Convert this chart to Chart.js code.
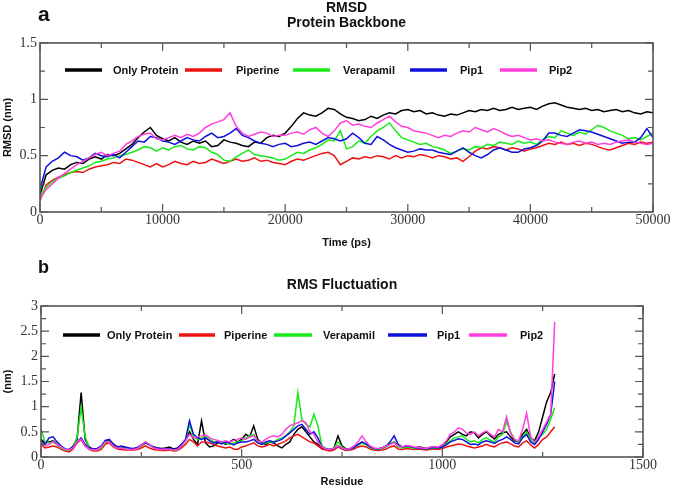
<!DOCTYPE html>
<html>
<head>
<meta charset="utf-8">
<script src="https://cdn.jsdelivr.net/npm/chart.js@4.4.1/dist/chart.umd.min.js"></script>
<style>
  html, body { margin: 0; padding: 0; background: #fff; }
  #wrap { position: relative; width: 675px; height: 488px; overflow: hidden; }
  canvas { position: absolute; left: 0; }
  .tag { position: absolute; left: 38px; line-height: 1; font-family: "Liberation Sans", Arial, sans-serif; font-weight: bold; color: #111; }
</style>
</head>
<body>
<div id="wrap">
  <canvas id="rmsdChart" width="675" height="250" style="top:0"></canvas>
  <canvas id="rmsfChart" width="675" height="238" style="top:250px"></canvas>
  <div class="tag" style="top:3px; font-size:21px">a</div>
  <div class="tag" style="top:258px; font-size:18px">b</div>
</div>
<script>
// Series names (same order in both panels)
const seriesNames = ['Only Protein', 'Piperine', 'Verapamil', 'Pip1', 'Pip2'];

// Panel a: RMSD, sampled every 500 ps
const times = [
    0, 500, 1000, 1500, 2000, 2500, 3000, 3500, 4000, 4500,
    5000, 5500, 6000, 6500, 7000, 7500, 8000, 8500, 9000, 9500,
    10000, 10500, 11000, 11500, 12000, 12500, 13000, 13500, 14000, 14500,
    15000, 15500, 16000, 16500, 17000, 17500, 18000, 18500, 19000, 19500,
    20000, 20500, 21000, 21500, 22000, 22500, 23000, 23500, 24000, 24500,
    25000, 25500, 26000, 26500, 27000, 27500, 28000, 28500, 29000, 29500,
    30000, 30500, 31000, 31500, 32000, 32500, 33000, 33500, 34000, 34500,
    35000, 35500, 36000, 36500, 37000, 37500, 38000, 38500, 39000, 39500,
    40000, 40500, 41000, 41500, 42000, 42500, 43000, 43500, 44000, 44500,
    45000, 45500, 46000, 46500, 47000, 47500, 48000, 48500, 49000, 49500,
    50000
];
const rmsdProtein = [
    0.15, 0.33, 0.37, 0.39, 0.38, 0.42, 0.44, 0.43, 0.47, 0.49,
    0.47, 0.51, 0.50, 0.52, 0.56, 0.60, 0.66, 0.71, 0.75, 0.68,
    0.65, 0.63, 0.66, 0.62, 0.60, 0.63, 0.61, 0.63, 0.58, 0.59,
    0.64, 0.62, 0.61, 0.59, 0.58, 0.62, 0.61, 0.66, 0.68, 0.67,
    0.70, 0.76, 0.83, 0.88, 0.86, 0.85, 0.88, 0.92, 0.91, 0.87,
    0.84, 0.83, 0.81, 0.82, 0.85, 0.83, 0.86, 0.88, 0.87, 0.90,
    0.91, 0.89, 0.90, 0.87, 0.88, 0.86, 0.85, 0.87, 0.86, 0.88,
    0.90, 0.89, 0.91, 0.90, 0.92, 0.90, 0.91, 0.93, 0.91, 0.92,
    0.93, 0.91, 0.94, 0.96, 0.97, 0.95, 0.93, 0.92, 0.91, 0.92,
    0.90, 0.91, 0.89, 0.90, 0.91, 0.89, 0.90, 0.88, 0.87, 0.89,
    0.88
];
const rmsdPiperine = [
    0.10, 0.24, 0.28, 0.31, 0.33, 0.35, 0.36, 0.35, 0.38, 0.40,
    0.41, 0.42, 0.44, 0.43, 0.47, 0.46, 0.44, 0.42, 0.40, 0.43,
    0.40, 0.42, 0.45, 0.43, 0.42, 0.45, 0.43, 0.44, 0.47, 0.45,
    0.43, 0.45, 0.47, 0.45, 0.46, 0.48, 0.45, 0.46, 0.44, 0.43,
    0.42, 0.45, 0.47, 0.46, 0.48, 0.50, 0.52, 0.53, 0.50, 0.42,
    0.45, 0.48, 0.47, 0.49, 0.48, 0.50, 0.49, 0.47, 0.50, 0.48,
    0.50, 0.49, 0.51, 0.50, 0.48, 0.50, 0.49, 0.47, 0.48, 0.45,
    0.49, 0.54, 0.57, 0.56, 0.58, 0.57, 0.55, 0.57, 0.56, 0.54,
    0.56, 0.57, 0.59, 0.61, 0.60, 0.62, 0.60, 0.61, 0.59, 0.61,
    0.60, 0.58, 0.56, 0.55, 0.57, 0.59, 0.61, 0.60, 0.62, 0.61,
    0.62
];
const rmsdVerapamil = [
    0.14, 0.22, 0.27, 0.30, 0.32, 0.35, 0.37, 0.39, 0.41, 0.44,
    0.45, 0.47, 0.48, 0.50, 0.51, 0.53, 0.55, 0.58, 0.57, 0.54,
    0.57, 0.55, 0.58, 0.59, 0.56, 0.55, 0.58, 0.57, 0.53, 0.51,
    0.46, 0.45, 0.49, 0.52, 0.55, 0.51, 0.50, 0.49, 0.48, 0.46,
    0.47, 0.50, 0.53, 0.52, 0.55, 0.57, 0.60, 0.64, 0.63, 0.72,
    0.56, 0.58, 0.63, 0.61, 0.67, 0.72, 0.75, 0.79, 0.72, 0.66,
    0.64, 0.62, 0.60, 0.61, 0.58, 0.57, 0.55, 0.52, 0.54, 0.56,
    0.55, 0.58, 0.57, 0.60, 0.59, 0.62, 0.61, 0.60, 0.63, 0.61,
    0.62, 0.60, 0.64, 0.67, 0.66, 0.72, 0.70, 0.68, 0.71, 0.69,
    0.73, 0.77, 0.75, 0.72, 0.70, 0.68, 0.65, 0.66, 0.64, 0.67,
    0.70
];
const rmsdPip1 = [
    0.20, 0.40, 0.45, 0.48, 0.53, 0.50, 0.49, 0.46, 0.48, 0.52,
    0.50, 0.49, 0.51, 0.48, 0.53, 0.58, 0.63, 0.62, 0.67, 0.66,
    0.63, 0.62, 0.60, 0.63, 0.66, 0.64, 0.63, 0.67, 0.70, 0.66,
    0.67, 0.70, 0.74, 0.68, 0.66, 0.63, 0.61, 0.60, 0.58, 0.60,
    0.61, 0.58, 0.59, 0.61, 0.62, 0.60, 0.63, 0.66, 0.65, 0.63,
    0.65, 0.70, 0.66, 0.61, 0.60, 0.67, 0.64, 0.60, 0.57, 0.55,
    0.53, 0.54, 0.56, 0.55, 0.55, 0.53, 0.52, 0.51, 0.54, 0.57,
    0.53, 0.50, 0.48, 0.51, 0.55, 0.57, 0.55, 0.53, 0.53, 0.56,
    0.57, 0.59, 0.63, 0.70, 0.70, 0.68, 0.67, 0.70, 0.73, 0.72,
    0.71, 0.69, 0.67, 0.65, 0.63, 0.61, 0.62, 0.62, 0.66, 0.74,
    0.66
];
const rmsdPip2 = [
    0.12, 0.20, 0.25, 0.30, 0.34, 0.38, 0.42, 0.45, 0.48, 0.51,
    0.53, 0.50, 0.52, 0.54, 0.60, 0.63, 0.67, 0.69, 0.70, 0.65,
    0.64, 0.66, 0.68, 0.66, 0.69, 0.67, 0.70, 0.75, 0.78, 0.80,
    0.82, 0.88, 0.76, 0.70, 0.67, 0.69, 0.71, 0.70, 0.67, 0.68,
    0.68, 0.70, 0.71, 0.69, 0.73, 0.75, 0.70, 0.67, 0.72, 0.79,
    0.81, 0.77, 0.78, 0.76, 0.75, 0.79, 0.82, 0.85, 0.80, 0.76,
    0.75, 0.72, 0.71, 0.70, 0.68, 0.66, 0.68, 0.67, 0.70, 0.72,
    0.71, 0.75, 0.73, 0.71, 0.74, 0.72, 0.69, 0.67, 0.68, 0.66,
    0.64, 0.65, 0.63, 0.64, 0.62, 0.61, 0.60, 0.62, 0.63, 0.61,
    0.62, 0.60, 0.61, 0.60, 0.62, 0.63, 0.64, 0.62, 0.61, 0.60,
    0.61
];

// Panel b: RMS fluctuation, every 10 residues
const residues = [
    0, 10, 20, 30, 40, 50, 60, 70, 80, 90,
    100, 110, 120, 130, 140, 150, 160, 170, 180, 190,
    200, 210, 220, 230, 240, 250, 260, 270, 280, 290,
    300, 310, 320, 330, 340, 350, 360, 370, 380, 390,
    400, 410, 420, 430, 440, 450, 460, 470, 480, 490,
    500, 510, 520, 530, 540, 550, 560, 570, 580, 590,
    600, 610, 620, 630, 640, 650, 660, 670, 680, 690,
    700, 710, 720, 730, 740, 750, 760, 770, 780, 790,
    800, 810, 820, 830, 840, 850, 860, 870, 880, 890,
    900, 910, 920, 930, 940, 950, 960, 970, 980, 990,
    1000, 1010, 1020, 1030, 1040, 1050, 1060, 1070, 1080, 1090,
    1100, 1110, 1120, 1130, 1140, 1150, 1160, 1170, 1180, 1190,
    1200, 1210, 1220, 1230, 1240, 1250, 1260, 1270, 1280
];
const rmsfProtein = [
    0.35, 0.28, 0.30, 0.32, 0.25, 0.20, 0.15, 0.14, 0.22, 0.35,
    1.28, 0.35, 0.20, 0.15, 0.16, 0.20, 0.30, 0.34, 0.25, 0.20,
    0.20, 0.18, 0.17, 0.16, 0.18, 0.22, 0.28, 0.24, 0.20, 0.18,
    0.17, 0.18, 0.20, 0.16, 0.18, 0.25, 0.32, 0.50, 0.35, 0.25,
    0.72, 0.28, 0.20, 0.22, 0.28, 0.30, 0.25, 0.30, 0.35, 0.30,
    0.35, 0.45, 0.40, 0.62, 0.35, 0.28, 0.25, 0.30, 0.28, 0.22,
    0.18, 0.25, 0.30, 0.45, 0.55, 0.60, 0.50, 0.40, 0.30, 0.25,
    0.18, 0.15, 0.14, 0.18, 0.42, 0.22, 0.16, 0.17, 0.20, 0.24,
    0.28, 0.25, 0.20, 0.17, 0.16, 0.18, 0.22, 0.26, 0.30, 0.22,
    0.20, 0.22, 0.20, 0.18, 0.20, 0.19, 0.17, 0.19, 0.20, 0.18,
    0.22, 0.30, 0.40, 0.45, 0.50, 0.45, 0.42, 0.50, 0.48, 0.38,
    0.45, 0.50, 0.42, 0.36, 0.45, 0.48, 0.50, 0.40, 0.32, 0.30,
    0.45, 0.55, 0.38, 0.32, 0.50, 0.80, 1.10, 1.28, 1.65
];
const rmsfPiperine = [
    0.25, 0.18, 0.20, 0.22, 0.20, 0.15, 0.12, 0.10, 0.16, 0.28,
    0.35, 0.22, 0.15, 0.12, 0.12, 0.15, 0.25, 0.28, 0.20, 0.16,
    0.15, 0.14, 0.14, 0.14, 0.15, 0.18, 0.22, 0.18, 0.15, 0.14,
    0.13, 0.13, 0.14, 0.12, 0.13, 0.18, 0.25, 0.35, 0.30, 0.22,
    0.30, 0.30, 0.28, 0.25, 0.22, 0.20, 0.18, 0.20, 0.16, 0.15,
    0.20, 0.22, 0.25, 0.28, 0.22, 0.20, 0.22, 0.25, 0.22, 0.25,
    0.28, 0.32, 0.38, 0.42, 0.45, 0.40, 0.35, 0.30, 0.28, 0.22,
    0.16, 0.14, 0.12, 0.14, 0.20, 0.16, 0.13, 0.14, 0.16, 0.20,
    0.22, 0.20, 0.16, 0.14, 0.13, 0.14, 0.16, 0.20, 0.22, 0.16,
    0.15, 0.17, 0.16, 0.15, 0.16, 0.15, 0.14, 0.15, 0.16, 0.15,
    0.17, 0.20, 0.22, 0.24, 0.26, 0.25, 0.22, 0.20, 0.18, 0.20,
    0.22, 0.25, 0.22, 0.20, 0.25, 0.28, 0.30, 0.26, 0.22, 0.20,
    0.28, 0.32, 0.24, 0.18, 0.25, 0.35, 0.40, 0.50, 0.60
];
const rmsfVerapamil = [
    0.55, 0.30, 0.28, 0.30, 0.24, 0.18, 0.14, 0.13, 0.20, 0.40,
    0.98, 0.40, 0.18, 0.14, 0.15, 0.18, 0.28, 0.32, 0.22, 0.18,
    0.18, 0.17, 0.16, 0.16, 0.18, 0.22, 0.30, 0.25, 0.19, 0.17,
    0.15, 0.16, 0.15, 0.14, 0.15, 0.22, 0.32, 0.65, 0.40, 0.35,
    0.38, 0.40, 0.35, 0.30, 0.30, 0.28, 0.28, 0.25, 0.28, 0.30,
    0.32, 0.38, 0.42, 0.45, 0.30, 0.25, 0.28, 0.30, 0.30, 0.35,
    0.38, 0.42, 0.50, 0.62, 1.28, 0.75, 0.65, 0.60, 0.85, 0.62,
    0.22, 0.17, 0.15, 0.18, 0.30, 0.20, 0.15, 0.16, 0.19, 0.24,
    0.28, 0.24, 0.19, 0.16, 0.15, 0.17, 0.20, 0.25, 0.30, 0.20,
    0.18, 0.20, 0.19, 0.17, 0.18, 0.17, 0.16, 0.17, 0.18, 0.17,
    0.20, 0.26, 0.32, 0.38, 0.40, 0.42, 0.35, 0.30, 0.32, 0.28,
    0.35, 0.38, 0.33, 0.30, 0.40, 0.45, 0.70, 0.50, 0.35, 0.30,
    0.40, 0.50, 0.35, 0.28, 0.38, 0.45, 0.55, 0.75, 0.98
];
const rmsfPip1 = [
    0.30, 0.25, 0.38, 0.40, 0.30, 0.22, 0.16, 0.15, 0.20, 0.30,
    0.38, 0.25, 0.18, 0.16, 0.17, 0.22, 0.33, 0.35, 0.26, 0.20,
    0.22, 0.20, 0.18, 0.17, 0.19, 0.24, 0.28, 0.24, 0.20, 0.18,
    0.16, 0.17, 0.16, 0.15, 0.17, 0.25, 0.35, 0.72, 0.45, 0.38,
    0.35, 0.38, 0.32, 0.28, 0.30, 0.26, 0.30, 0.28, 0.24, 0.28,
    0.30, 0.30, 0.32, 0.35, 0.28, 0.25, 0.30, 0.32, 0.30, 0.32,
    0.35, 0.42, 0.48, 0.55, 0.62, 0.65, 0.55, 0.45, 0.50, 0.38,
    0.20, 0.16, 0.15, 0.17, 0.22, 0.18, 0.15, 0.16, 0.19, 0.25,
    0.30, 0.26, 0.20, 0.17, 0.16, 0.18, 0.22, 0.30, 0.42, 0.25,
    0.20, 0.22, 0.21, 0.19, 0.18, 0.17, 0.16, 0.18, 0.19, 0.18,
    0.20, 0.24, 0.30, 0.33, 0.36, 0.35, 0.30, 0.25, 0.26, 0.24,
    0.30, 0.32, 0.30, 0.27, 0.32, 0.35, 0.40, 0.35, 0.28, 0.26,
    0.38, 0.45, 0.30, 0.25, 0.35, 0.50, 0.65, 0.85, 1.50
];
const rmsfPip2 = [
    0.28, 0.22, 0.25, 0.30, 0.25, 0.20, 0.15, 0.14, 0.18, 0.30,
    0.35, 0.22, 0.16, 0.14, 0.15, 0.20, 0.30, 0.30, 0.22, 0.17,
    0.18, 0.16, 0.15, 0.15, 0.17, 0.24, 0.30, 0.25, 0.18, 0.16,
    0.15, 0.16, 0.15, 0.14, 0.15, 0.22, 0.32, 0.45, 0.38, 0.40,
    0.42, 0.44, 0.38, 0.35, 0.33, 0.30, 0.32, 0.30, 0.33, 0.35,
    0.38, 0.35, 0.40, 0.42, 0.32, 0.30, 0.35, 0.40, 0.42, 0.40,
    0.45, 0.55, 0.62, 0.65, 0.68, 0.72, 0.68, 0.50, 0.45, 0.30,
    0.20, 0.16, 0.15, 0.17, 0.22, 0.18, 0.15, 0.17, 0.22, 0.30,
    0.42, 0.30, 0.22, 0.18, 0.17, 0.18, 0.22, 0.25, 0.28, 0.22,
    0.20, 0.23, 0.22, 0.20, 0.19, 0.18, 0.17, 0.20, 0.21, 0.20,
    0.24, 0.32, 0.45, 0.50, 0.58, 0.55, 0.48, 0.45, 0.50, 0.42,
    0.48, 0.52, 0.45, 0.40, 0.55, 0.50, 0.80, 0.48, 0.35, 0.32,
    0.55, 0.87, 0.40, 0.30, 0.40, 0.55, 0.70, 0.85, 2.68
];

// Styling
const colors = ['#000000', '#ee1111', '#18ea18', '#1010dd', '#ff3fdc'];
const sans = '"Liberation Sans", Arial, sans-serif';
const serif = '"Liberation Serif", "Times New Roman", serif';

function makeDatasets(xs, seriesList) {
    return seriesList.map((vals, i) => ({
        label: seriesNames[i],
        data: xs.map((x, j) => ({ x: x, y: vals[j] })),
        borderColor: colors[i],
        borderWidth: 1.5,
        pointRadius: 0,
        tension: 0,
        fill: false,
        order: seriesList.length - 1 - i   // later series drawn on top
    }));
}

// Frame, inward ticks on all sides, and the in-plot legend
const framePlugin = {
    id: 'frame',
    afterDraw(chart, args, opts) {
        const { ctx, chartArea: a, scales: { x, y } } = chart;
        ctx.save();
        ctx.strokeStyle = '#555';
        ctx.lineWidth = 1.2;
        ctx.beginPath();
        for (let k = 0; x.min + k * opts.xMinor <= x.max + 1e-9; k++) {
            const px = x.getPixelForValue(x.min + k * opts.xMinor);
            const len = k % 2 === 0 ? 8 : 5;
            ctx.moveTo(px, a.bottom); ctx.lineTo(px, a.bottom - len);
            ctx.moveTo(px, a.top); ctx.lineTo(px, a.top + len);
        }
        for (let k = 0; y.min + k * opts.yMinor <= y.max + 1e-9; k++) {
            const py = y.getPixelForValue(y.min + k * opts.yMinor);
            const len = k % 2 === 0 ? 8 : 5;
            ctx.moveTo(a.left, py); ctx.lineTo(a.left + len, py);
            ctx.moveTo(a.right, py); ctx.lineTo(a.right - len, py);
        }
        ctx.stroke();
        ctx.lineWidth = 1.6;
        ctx.strokeRect(a.left, a.top, a.right - a.left, a.bottom - a.top);

        // legend
        ctx.font = 'bold 11px ' + sans;
        ctx.textBaseline = 'middle';
        ctx.fillStyle = '#111';
        chart.data.datasets.forEach((ds, i) => {
            const [x0, x1, tx] = opts.legendX[i];
            ctx.strokeStyle = ds.borderColor;
            ctx.lineWidth = 3.5;
            ctx.beginPath();
            ctx.moveTo(x0, opts.legendY);
            ctx.lineTo(x1, opts.legendY);
            ctx.stroke();
            ctx.fillText(ds.label, tx, opts.legendY + 1);
        });
        ctx.restore();
    }
};

const fmt = v => String(Math.round(v * 100) / 100);

function axisOptions(min, max, step, fitKey, fitVal, titleText, titlePad) {
    return {
        type: 'linear',
        min: min,
        max: max,
        afterFit: s => { s[fitKey] = fitVal; },
        grid: { display: false, drawTicks: false },
        border: { display: false },
        ticks: {
            stepSize: step,
            padding: fitKey === 'width' ? 3 : 0,
            autoSkip: false,
            maxRotation: 0,
            color: '#333',
            font: { family: serif, size: 14 },
            callback: fmt
        },
        title: {
            display: true,
            text: titleText,
            color: '#111',
            font: { family: sans, size: 11, weight: 'bold' },
            padding: titlePad
        }
    };
}

// Panel a
new Chart(document.getElementById('rmsdChart').getContext('2d'), {
    type: 'line',
    data: {
        datasets: makeDatasets(times, [rmsdProtein, rmsdPiperine, rmsdVerapamil, rmsdPip1, rmsdPip2])
    },
    options: {
        responsive: false,
        animation: false,
        events: [],
        layout: { padding: { top: 1, right: 22, bottom: 0, left: 0 } },
        plugins: {
            legend: { display: false },
            tooltip: { enabled: false },
            title: {
                display: true,
                fullSize: false,
                text: ['RMSD', 'Protein Backbone'],
                color: '#111',
                font: { family: sans, size: 14, weight: 'bold', lineHeight: 1.07 },
                padding: { top: 0, bottom: 12 }
            },
            frame: {
                xMinor: 5000, yMinor: 0.25, legendY: 70,
                legendX: [[65, 102, 113], [185, 222, 236], [293, 330, 343], [410, 447, 460], [500, 537, 549]]
            }
        },
        scales: {
            x: axisOptions(0, 50000, 10000, 'height', 38, 'Time (ps)', { top: 0, bottom: 0 }),
            y: axisOptions(0, 1.5, 0.5, 'width', 40, 'RMSD (nm)', { top: 1, bottom: 0 })
        }
    },
    plugins: [framePlugin]
});

// Panel b
new Chart(document.getElementById('rmsfChart').getContext('2d'), {
    type: 'line',
    data: {
        datasets: makeDatasets(residues, [rmsfProtein, rmsfPiperine, rmsfVerapamil, rmsfPip1, rmsfPip2])
    },
    options: {
        responsive: false,
        animation: false,
        events: [],
        layout: { padding: { top: 28, right: 32, bottom: 0, left: 0 } },
        plugins: {
            legend: { display: false },
            tooltip: { enabled: false },
            title: {
                display: true,
                fullSize: false,
                text: 'RMS Fluctuation',
                color: '#111',
                font: { family: sans, size: 14, weight: 'bold', lineHeight: 1.07 },
                padding: { top: 0, bottom: 13 }
            },
            frame: {
                xMinor: 250, yMinor: 0.25, legendY: 85,
                legendX: [[63, 100, 107], [179, 215, 224], [274, 312, 323], [388, 427, 437], [469, 507, 520]]
            }
        },
        scales: {
            x: axisOptions(0, 1500, 500, 'height', 31, 'Residue', { top: 0, bottom: -1 }),
            y: axisOptions(0, 3, 0.5, 'width', 41, '(nm)', { top: 1, bottom: 0 })
        }
    },
    plugins: [framePlugin]
});
</script>
</body>
</html>
